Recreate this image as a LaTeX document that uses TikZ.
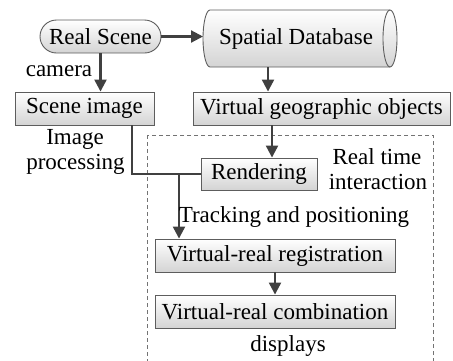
\documentclass[tikz,border=0pt]{standalone}
\usepackage{fontspec}
\setmainfont{Liberation Serif}
\usetikzlibrary{arrows.meta}
\definecolor{ln}{HTML}{404040}
\tikzset{
  txtfont/.style={font=\fontsize{23}{25}\selectfont},
  box/.style={draw=ln!85, line width=0.9pt, top color=white, bottom color=black!17,
    inner sep=0pt, txtfont},
  arr/.style={draw=ln, line width=2.2pt, -{Triangle[length=12pt,width=12pt]}},
  conn/.style={draw=ln, line width=2.2pt},
  lbl/.style={txtfont, inner sep=0pt},
  dashbox/.style={draw=black!55, line width=0.9pt, dash pattern=on 4pt off 3pt},
}
\begin{document}
\begin{tikzpicture}[x=1pt,y=-1pt]
\useasboundingbox (0,0) rectangle (453,360);
\clip (0,0) rectangle (453,360);

% dashed region
\draw[dashbox] (147,135) rectangle (433,375);

% Real Scene
\node[box, rounded corners=16.5pt, minimum width=121pt, minimum height=33pt] (rs) at (100.5,36.5) {Real Scene};

% Spatial database cylinder
\path[draw=ln!85, line width=0.9pt, top color=white, bottom color=black!17]
  (210,10) -- (390,10)
  arc[start angle=-90, end angle=90, x radius=7, y radius=28.5]
  -- (210,67)
  arc[start angle=90, end angle=270, x radius=7, y radius=28.5] -- cycle;
\draw[draw=ln!85, line width=0.9pt] (390,10)
  arc[start angle=-90, end angle=-270, x radius=7, y radius=28.5];
\node[lbl] (db) at (296,38.5) {Spatial Database};
\coordinate (dbw) at (203,38.5);
\coordinate (dbs) at (268,67);

% boxes
\node[box, minimum width=139pt, minimum height=33pt] (si) at (84.5,108.5) {Scene image};
\node[box, minimum width=257pt, minimum height=33pt] (vgo) at (321.5,108.5) {Virtual geographic objects};
\node[box, minimum width=116pt, minimum height=32pt] (ren) at (259,174) {Rendering};
\node[box, minimum width=240pt, minimum height=33pt] (reg) at (275,255.5) {Virtual-real registration};
\node[box, minimum width=240pt, minimum height=33pt] (comb) at (275,311.5) {Virtual-real combination};

% connectors
\draw[arr] (rs.east) -- (rs.east -| dbw);
\draw[arr] (rs.south) -- (rs.south |- si.north);
\draw[arr] (dbs) -- (dbs |- vgo.north);
\coordinate (vgoout) at (272,125);
\draw[arr] (vgoout) -- (vgoout |- ren.north);
\coordinate (siout) at (132,125);
\draw[conn] (siout) |- (ren.west);
\coordinate (j) at (179,0);
\draw[arr] (j |- ren.west) -- (j |- reg.north);
\draw[arr] (reg.south) -- (comb.north);

% labels
\node[lbl, anchor=base] (cam) at (59,76) {camera};
\node[lbl, anchor=base] (ip1) at (75,144) {Image};
\node[lbl, anchor=base] (ip2) at (75.5,169) {processing};
\node[lbl, anchor=base] (rt1) at (377,164) {Real time};
\node[lbl, anchor=base] (rt2) at (378,189) {interaction};
\node[lbl, anchor=base] (tp) at (294,222) {Tracking and positioning};
\node[lbl, anchor=base] (disp) at (288,351) {displays};
\end{tikzpicture}
\end{document}
